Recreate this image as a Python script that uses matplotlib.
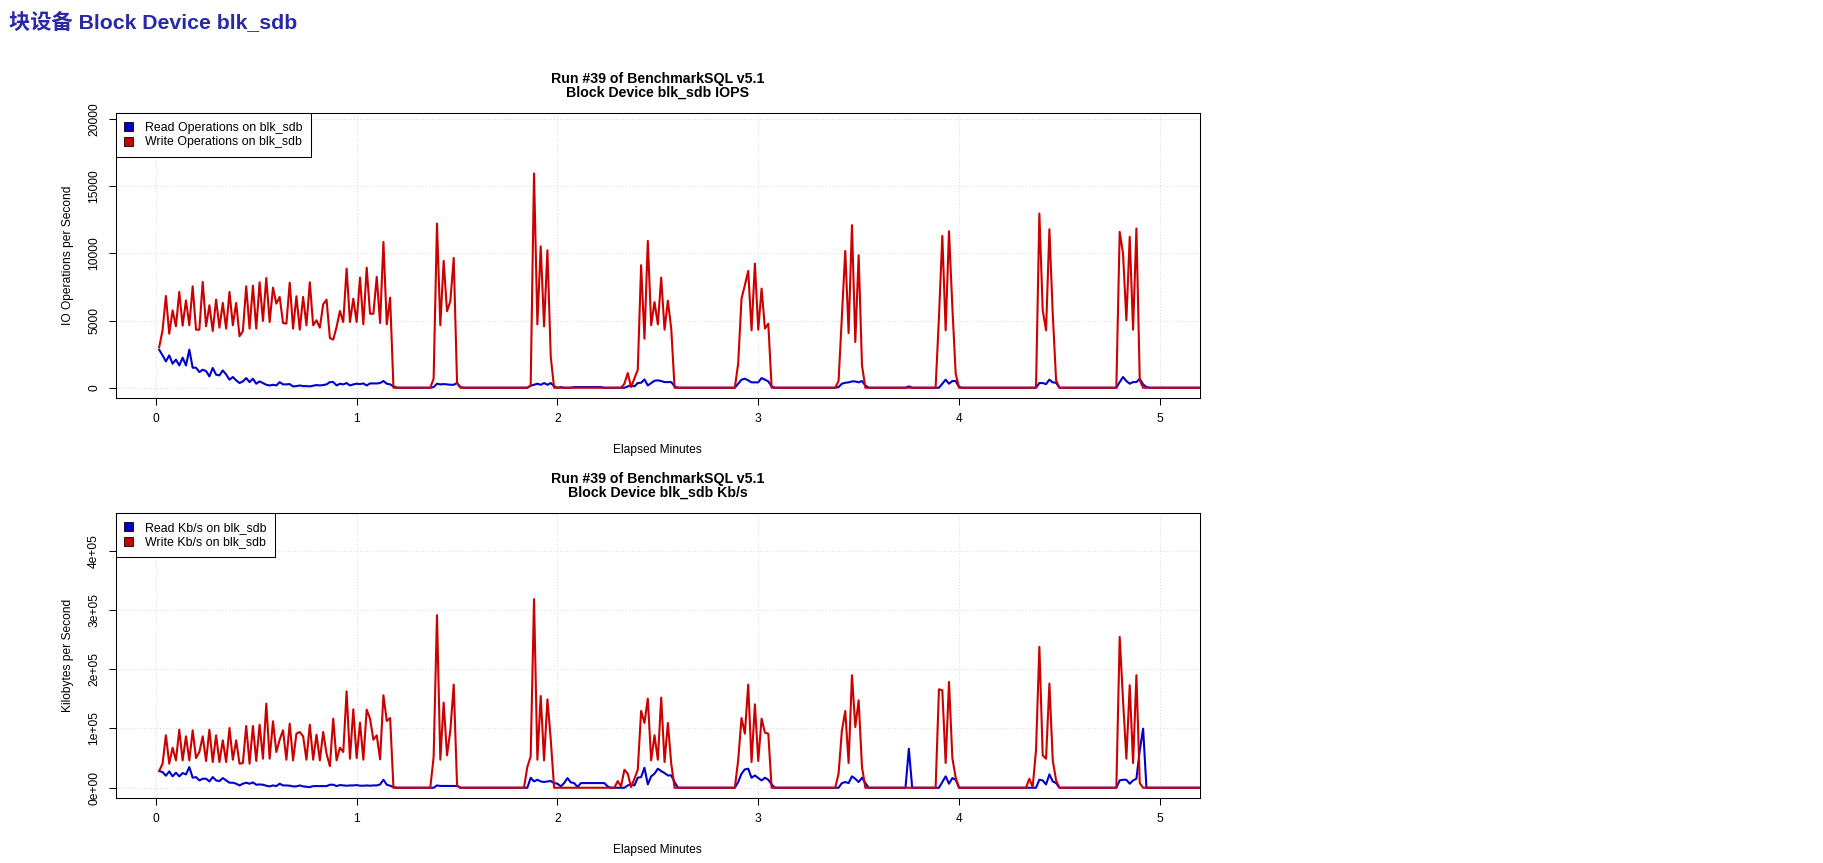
import numpy as np
import matplotlib
matplotlib.use("Agg")
import matplotlib.pyplot as plt
from matplotlib.patches import Patch

plt.rcParams['font.family'] = ['Liberation Sans', 'Noto Sans CJK SC', 'DejaVu Sans']

# one sample per second, second 1 .. N
N = 313

# segments: {first second: [values ...]}, zero elsewhere
read_iops_segs = {
    1: [2830, 2410, 1960, 2410, 1790, 2090, 1660, 2240, 1660, 2830,
        1490, 1490, 1170, 1340, 1240, 845, 1470, 970, 920, 1290,
        990, 600, 800, 550, 350, 470, 720, 420, 670, 300,
        470, 350, 220, 170, 220, 170, 420, 250, 250, 270,
        100, 120, 170, 120, 120, 100, 150, 200, 170, 200,
        250, 420, 420, 170, 300, 250, 350, 170, 250, 300,
        270, 320, 170, 320, 320, 320, 350, 500, 300, 250, 100],
    83: [50, 300, 250, 270, 250, 220, 220, 350, 50],
    112: [150, 220, 300, 220, 350, 220, 350, 100],
    121: [50],
    125: [50, 50, 50, 50, 50, 50, 50, 50, 50],
    141: [100, 170, 100, 350, 370, 620, 170, 350, 520, 550, 500, 420, 420, 420, 100],
    174: [300, 600, 670, 550, 400, 400, 400, 720, 600, 470, 100],
    204: [50, 300, 370, 400, 470, 470, 400, 500, 170],
    225: [100],
    235: [300, 600, 300, 500, 500, 50],
    264: [350, 350, 270, 600, 400, 370],
    288: [420, 800, 500, 300, 420, 420, 670, 250, 50],
}

write_iops_segs = {
    1: [3030, 4270, 6830, 4020, 5760, 4570, 7130, 4620, 6500, 4650,
        7550, 4320, 4320, 7870, 4570, 6140, 4220, 6560, 4470, 6310,
        4400, 7130, 4650, 6310, 3830, 4220, 7550, 4400, 7600, 4400,
        7850, 4970, 8170, 4890, 7450, 6260, 6760, 4820, 4770, 7820,
        4400, 6810, 4320, 6760, 4650, 7850, 4650, 5020, 4470, 6210,
        6560, 3700, 3580, 4520, 5710, 4890, 8870, 4890, 6630, 4890,
        8200, 4720, 8940, 5510, 5510, 8250, 4820, 10850, 4720, 6710],
    83: [670, 12220, 4650, 9440, 5690, 6460, 9660, 350],
    112: [170, 15950, 4720, 10530, 4570, 10230, 2290],
    140: [300, 1090, 50, 700, 1340, 9120, 3650, 10930, 4650, 6380, 4720, 8200, 4320, 6480, 4400],
    174: [1790, 6630, 7630, 8690, 4270, 9240, 4320, 7380, 4400, 4770],
    204: [500, 5270, 10180, 4070, 12100, 3400, 9860, 1660],
    234: [5270, 11300, 4270, 11650, 6000, 1040],
    264: [12970, 5760, 4270, 11800, 5500, 550],
    288: [11600, 9990, 5020, 11230, 4320, 11850, 550],
}

read_kb_segs = {
    1: [28200, 26500, 20300, 27600, 19200, 25400, 19200, 24800, 22500, 34900,
        16900, 18000, 12400, 15200, 15200, 10700, 18000, 12400, 11300, 16300,
        12400, 8500, 8500, 6800, 3900, 6800, 8500, 6800, 9000, 5100,
        5600, 5100, 3400, 2300, 3900, 2800, 6800, 3900, 3900, 3400,
        2300, 2300, 3900, 2300, 1700, 1100, 2800, 2800, 2800, 2800,
        2800, 5100, 5100, 2800, 4500, 3900, 3400, 3900, 3900, 4500,
        3400, 3400, 3900, 3400, 3900, 3900, 5600, 13500, 5100, 3400, 1100],
    84: [3900, 3000, 3000, 3000, 3000, 3000, 3000],
    112: [16900, 10700, 13500, 10700, 9600, 10700, 11300, 7900, 6800, 2300,
          7900, 16300, 9000, 7900, 1100, 7900, 7900, 7900, 7900, 7900,
          7900, 7900, 7900, 2300],
    141: [3900, 5600, 3900, 16900, 18000, 33800, 5600, 19200, 23700, 32100,
          28200, 24800, 20800, 20800, 9600],
    174: [9600, 23700, 31000, 32100, 16900, 20800, 16300, 12400, 16900, 13500, 5600],
    205: [7900, 9600, 7900, 19200, 15200, 9600, 16900, 7900],
    225: [65900],
    235: [9600, 19200, 6800, 16300, 13500],
    264: [13500, 12400, 5600, 22500, 10700, 7900],
    288: [12400, 13500, 13500, 6800, 12400, 15200, 63100, 99700],
}

write_kb_segs = {
    1: [28200, 40600, 88500, 40600, 67600, 46200, 98000, 46200, 86800, 46200,
        96900, 50100, 60300, 86800, 45100, 98000, 43400, 88500, 43400, 80000,
        43400, 100800, 47300, 80000, 40600, 41700, 104200, 40600, 104200, 45100,
        106500, 49000, 142000, 49000, 112100, 60300, 81100, 96900, 47300, 108200,
        46200, 91300, 94100, 86800, 47300, 106500, 47300, 89600, 46200, 94100,
        57500, 36600, 116600, 46200, 67600, 60300, 162800, 49000, 132400, 50100,
        109900, 47300, 131800, 116600, 81100, 88500, 47900, 156100, 112700, 117700],
    83: [51800, 291300, 47300, 143700, 54600, 96900, 174100, 3900],
    111: [34900, 52900, 318300, 47300, 154900, 46200, 149300, 81100],
    138: [11300, 2300, 30400, 23700, 1100, 15200, 30400, 129600, 109300, 150400,
          46200, 88500, 47300, 152100, 43400, 109300, 40600],
    174: [46200, 117700, 91300, 174100, 43400, 140800, 45100, 116600, 93000, 91300],
    204: [23700, 96900, 129600, 41700, 189900, 102500, 147600, 34900],
    234: [166200, 164500, 41700, 178600, 50100, 16900],
    261: [15200, 1100, 63100, 237800, 54600, 49000, 175800, 46200, 12400],
    288: [254600, 147600, 49000, 173000, 41700, 189900, 7900],
}

x_ticks = [0, 1, 2, 3, 4, 5]
iops_ticks = [0, 5000, 10000, 15000, 20000]
iops_labels = ["0", "5000", "10000", "15000", "20000"]
kb_ticks = [0, 100000, 200000, 300000, 400000]
kb_labels = ["0e+00", "1e+05", "2e+05", "3e+05", "4e+05"]

BLUE = "#0000CD"
RED = "#CD0000"
FS = 8.64


def build(segs):
    y = np.zeros(N)
    for s0, vals in segs.items():
        y[s0 - 1:s0 - 1 + len(vals)] = vals
    return y


minutes = np.arange(1, N + 1) / 60.0

W, H = 1823, 863
fig = plt.figure(figsize=(W / 100, H / 100), dpi=100)
fig.text(9 / W, 1 - 23 / H, "块设备 Block Device blk_sdb", fontsize=15.3,
         fontweight="bold", color="#2828a8", ha="left", va="center")


def panel(top_px, read, write, yticks, ylabels, ylim, ylabel, names, title2):
    ax = fig.add_axes([115.7 / W, 1 - (top_px + 285) / H, 1084.3 / W, 285 / H])
    ax.set_xlim(-0.2, 5.2)
    ax.set_ylim(*ylim)
    for v in x_ticks:
        ax.axvline(v, color="#dcdcdc", lw=0.75, ls=(0, (1, 2)), zorder=0)
    for v in yticks:
        ax.axhline(v, color="#dcdcdc", lw=0.75, ls=(0, (1, 2)), zorder=0)
    ax.plot(minutes, read, color=BLUE, lw=1.5, zorder=2)
    ax.plot(minutes, write, color=RED, lw=1.5, zorder=3)
    ax.set_xticks(x_ticks)
    ax.set_xticklabels([str(v) for v in x_ticks])
    ax.set_yticks(yticks)
    ax.set_yticklabels(ylabels)
    ax.tick_params(axis="x", direction="out", length=5.2, width=0.75, pad=5.4, labelsize=FS)
    ax.tick_params(axis="y", direction="out", length=5.2, width=0.75, pad=6.0, labelsize=FS)
    plt.setp(ax.get_yticklabels(), rotation=90, va="center")
    for sp in ax.spines.values():
        sp.set_linewidth(0.75)
    ax.set_xlabel("Elapsed Minutes", fontsize=FS)
    ax.xaxis.set_label_coords(0.5, -(450 - 398.3) / 285)
    ax.xaxis.label.set_va("center")
    ax.set_ylabel(ylabel, fontsize=FS)
    ax.yaxis.set_label_coords((68 - 115.7) / 1084.3, 0.5)
    ax.yaxis.label.set_va("center")
    handles = [Patch(facecolor=BLUE, edgecolor="black", lw=0.6, label=names[0]),
               Patch(facecolor=RED, edgecolor="black", lw=0.6, label=names[1])]
    leg = ax.legend(handles=handles, loc="upper left", bbox_to_anchor=(0, 1),
                    borderaxespad=0, fancybox=False, edgecolor="black", framealpha=1,
                    fontsize=8.9, handlelength=0.72, handleheight=0.72,
                    handletextpad=0.95, borderpad=0.7, labelspacing=0.2)
    leg.get_frame().set_linewidth(0.75)
    cx = (115.7 + 1200) / 2 / W
    fig.text(cx, 1 - (top_px - 34.5) / H, "Run #39 of BenchmarkSQL v5.1",
             fontsize=10.2, fontweight="bold", ha="center", va="center")
    fig.text(cx, 1 - (top_px - 20.5) / H, title2,
             fontsize=10.2, fontweight="bold", ha="center", va="center")
    return ax


panel(113.3, build(read_iops_segs), build(write_iops_segs), iops_ticks, iops_labels,
      (-786, 20426), "IO Operations per Second",
      ["Read Operations on blk_sdb", "Write Operations on blk_sdb"],
      "Block Device blk_sdb IOPS")
panel(513.3, build(read_kb_segs), build(write_kb_segs), kb_ticks, kb_labels,
      (-17816, 463216), "Kilobytes per Second",
      ["Read Kb/s on blk_sdb", "Write Kb/s on blk_sdb"],
      "Block Device blk_sdb Kb/s")

fig.savefig("out.png", dpi=100)
